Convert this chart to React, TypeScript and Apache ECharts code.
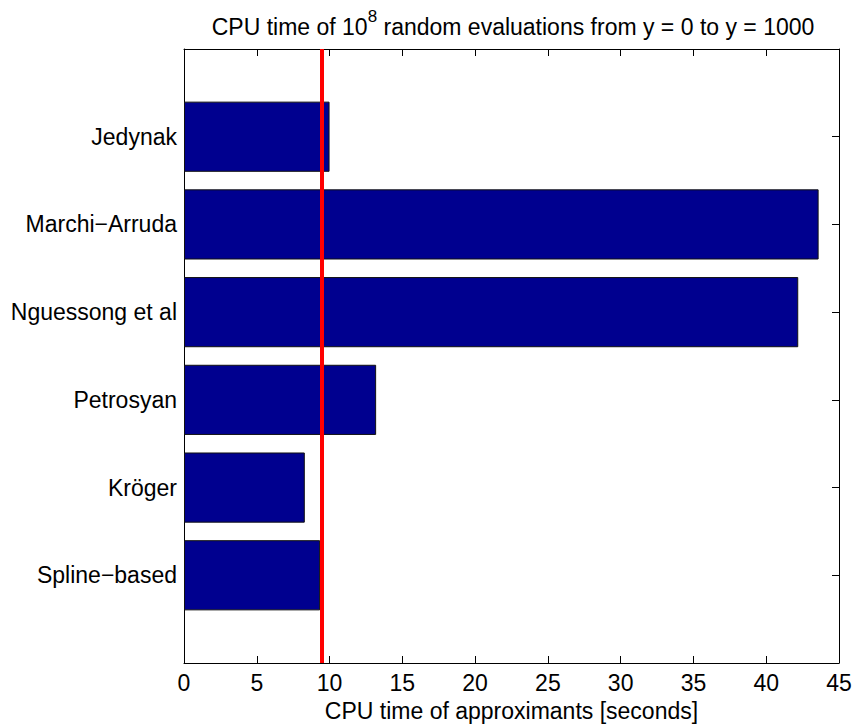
import React, { useEffect, useRef } from "react";
import * as echarts from "echarts";

// Methods, listed bottom-to-top as drawn on the y axis
const categories = [
  "Spline\u2212based",
  "Kr\u00f6ger",
  "Petrosyan",
  "Nguessong et al",
  "Marchi\u2212Arruda",
  "Jedynak",
];
// CPU time (seconds)
const cpuTimes = [9.35, 8.3, 13.2, 42.2, 43.6, 10.0];
// Reference vertical line value
const referenceLine = 9.46;
const xTicks = { min: 0, max: 45, interval: 5 };

const FONT = "'Liberation Sans', Arial, Helvetica, sans-serif";

export default function App() {
  const ref = useRef<HTMLDivElement>(null);
  useEffect(() => {
    if (!ref.current) return;
    const chart = echarts.init(ref.current, null, { renderer: "svg" });
    const axisData = ["", ...categories, ""];
    const barData: any[] = ["-", ...cpuTimes, "-"];
    const lineStyle = { color: "#000", width: 1 };
    chart.setOption({
      animation: false,
      backgroundColor: "#fff",
      textStyle: { fontFamily: FONT },
      graphic: [
        {
          type: "text",
          x: 513,
          y: 8,
          style: {
            text: "{a|CPU time of 10}{s|8}{a| random evaluations from y = 0 to y = 1000}",
            align: "center",
            verticalAlign: "top",
            rich: {
              a: { fontSize: 23, fontFamily: FONT, fill: "#000", lineHeight: 30, verticalAlign: "bottom" },
              s: { fontSize: 17, fontFamily: FONT, fill: "#000", verticalAlign: "top", lineHeight: 20 },
            },
          },
        },
      ],
      grid: { left: 184, right: 16, top: 49, bottom: 65, containLabel: false },
      xAxis: [
        {
          type: "value",
          min: xTicks.min,
          max: xTicks.max,
          interval: xTicks.interval,
          position: "bottom",
          name: "CPU time of approximants [seconds]",
          nameLocation: "middle",
          nameGap: 36,
          nameTextStyle: { fontSize: 23, color: "#000", fontFamily: FONT },
          axisLine: { show: true, onZero: false, lineStyle },
          axisTick: { show: true, inside: true, length: 7, lineStyle },
          axisLabel: { fontSize: 23, color: "#000", margin: 8, fontFamily: FONT },
          splitLine: { show: false },
        },
        {
          type: "value",
          min: xTicks.min,
          max: xTicks.max,
          interval: xTicks.interval,
          position: "top",
          axisLine: { show: true, onZero: false, lineStyle },
          axisTick: { show: true, inside: true, length: 7, lineStyle },
          axisLabel: { show: false },
          splitLine: { show: false },
        },
      ],
      yAxis: [
        {
          type: "category",
          data: axisData,
          boundaryGap: false,
          position: "left",
          axisLine: { show: true, onZero: false, lineStyle },
          axisTick: { show: true, inside: true, length: 7, interval: 0, lineStyle },
          axisLabel: { fontSize: 23, color: "#000", margin: 7, interval: 0, fontFamily: FONT },
          splitLine: { show: false },
        },
        {
          type: "category",
          data: axisData,
          boundaryGap: false,
          position: "right",
          axisLine: { show: true, onZero: false, lineStyle },
          axisTick: { show: true, inside: true, length: 7, interval: 0, lineStyle },
          axisLabel: { show: false },
          splitLine: { show: false },
        },
      ],
      series: [
        {
          type: "bar",
          xAxisIndex: 0,
          yAxisIndex: 0,
          data: barData,
          barWidth: "80%",
          itemStyle: { color: "#00008F", borderColor: "#111", borderWidth: 1 },
          markLine: {
            silent: true,
            symbol: "none",
            label: { show: false },
            lineStyle: { color: "#FF0000", width: 4, type: "solid" },
            data: [{ xAxis: referenceLine }],
          },
          z: 2,
        },
      ],
    });
    return () => chart.dispose();
  }, []);
  return (
    <div
      ref={ref}
      style={{ position: "absolute", left: 0, top: 0, width: 855, height: 728 }}
    />
  );
}
